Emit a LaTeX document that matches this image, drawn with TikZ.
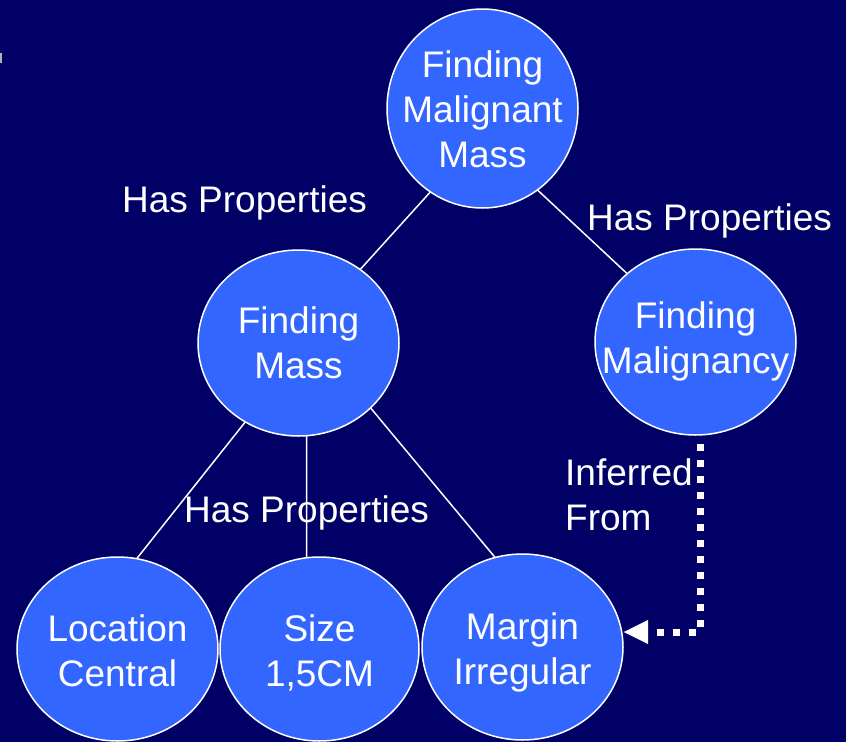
\documentclass[tikz,border=0pt]{standalone}
\usepackage{fontspec}
\setmainfont{Liberation Sans}
\usetikzlibrary{shapes.geometric,arrows.meta}
\definecolor{bgnavy}{RGB}{0,0,102}
\definecolor{blobblue}{RGB}{51,102,255}
\begin{document}
\begin{tikzpicture}[x=1pt,y=-1pt,
  blob/.style={ellipse, draw=white, line width=1.5pt, fill=blobblue, inner sep=0pt, outer sep=0pt},
  txt/.style={text=white, align=center, font=\fontsize{37}{45}\selectfont, inner sep=0pt},
  lbl/.style={text=white, anchor=base west, font=\fontsize{37}{45}\selectfont, inner sep=0pt},
  link/.style={draw=white, line width=1.5pt},
  infer/.style={draw=white, line width=7pt, dash pattern=on 7pt off 9pt, -{Triangle[length=25pt,width=22pt]}}]
\fill[bgnavy] (0,0) rectangle (846,742);
\useasboundingbox (0,0) rectangle (846,742);
\fill[gray!60] (0,53) rectangle (1.5,63);

% ellipses
\node[blob, minimum width=191pt, minimum height=199pt] (top) at (482.5,108.5) {};
\node[blob, minimum width=201pt, minimum height=186pt] (mass) at (298.5,343) {};
\node[blob, minimum width=201pt, minimum height=186pt] (mal) at (695.5,342) {};
\node[blob, minimum width=201pt, minimum height=184pt] (loc) at (117.5,649) {};
\node[blob, minimum width=199pt, minimum height=184pt] (size) at (319.5,649) {};
\node[blob, minimum width=201pt, minimum height=186pt] (marg) at (522.5,647) {};

% texts
\node[txt] (topT) at ([yshift=-1pt]top.center) {Finding\\Malignant\\Mass};
\node[txt] (massT) at (mass.center) {Finding\\Mass};
\node[txt] (malT) at ([yshift=1pt]mal.center) {Finding\\Malignancy};
\node[txt] (locT) at ([yshift=-2pt]loc.center) {Location\\Central};
\node[txt] (sizeT) at ([yshift=-4pt]size.center) {Size\\1,5CM};
\node[txt] (margT) at ([yshift=-5pt]marg.center) {Margin\\Irregular};

% connectors
\draw[link] (top.238) -- (mass.50);
\draw[link] (top.304) -- (mal.135);
\draw[link] (mass.236) -- (loc.78);
\draw[link] (mass.275) -- (size.98);
\draw[link] (mass.318) -- (marg.107);

% inferred-from arrow
\coordinate (bend) at (700,632);
\draw[infer, shorten <=9pt] (bend |- mal.south) -- (bend) -- (bend -| marg.east);

% labels
\node[lbl] (hp1) at (122,212) {Has Properties};
\node[lbl] (hp2) at (587,230) {Has Properties};
\node[lbl] (hp3) at (184,522) {Has Properties};
\node[txt, align=left, anchor=north west] (inf) at (565,458) {Inferred\\From};
\end{tikzpicture}
\end{document}
